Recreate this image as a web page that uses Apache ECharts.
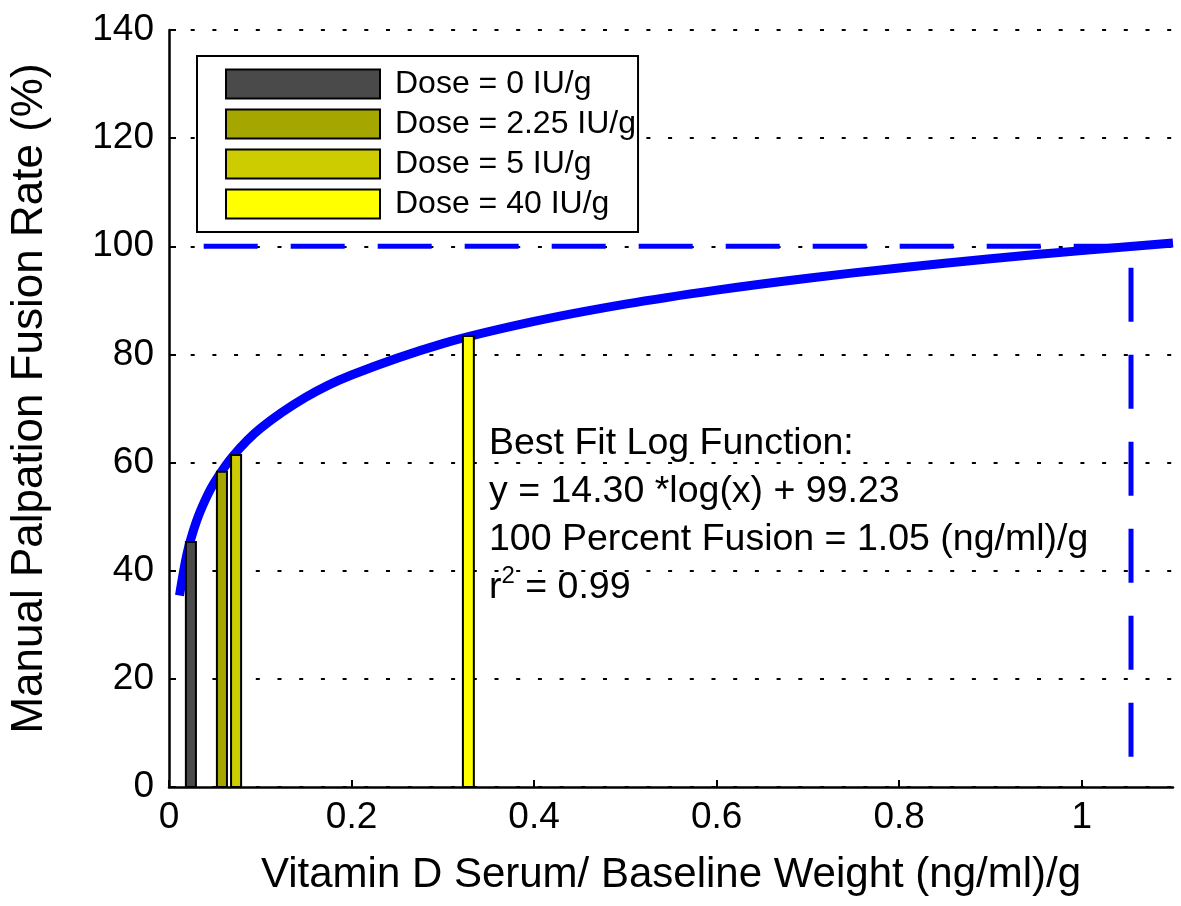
<!DOCTYPE html>
<html lang="en" style="height: 100%">
<head>
    <meta charset="utf-8">
    <title>Vitamin D fusion rate</title>
    <script src="https://cdn.jsdelivr.net/npm/echarts@6.0.0/dist/echarts.min.js"></script>
    <style>
        html, body { margin: 0; padding: 0; background: #fff; }
        #chart { width: 1181px; height: 906px; }
    </style>
</head>
<body>
<div id="chart"></div>
<script type="text/javascript">
    var chart = echarts.init(document.getElementById('chart'));

    // dose groups: [x centre, bar width, fusion rate]
    var doseNames = ['Dose = 0 IU/g', 'Dose = 2.25 IU/g', 'Dose = 5 IU/g', 'Dose = 40 IU/g'];
    var doseColors = ['#4a4a4a', '#a6a600', '#cccc00', '#ffff00'];
    var doseX = [0.024, 0.058, 0.0735, 0.328];
    var doseWidth = [0.011, 0.011, 0.011, 0.012];
    var doseRate = [45.3, 58.3, 61.4, 83.4];

    // fitted log curve
    var fitX = [0.0115, 0.02, 0.03, 0.04, 0.05, 0.07, 0.1, 0.15, 0.2, 0.3, 0.4, 0.5, 0.6, 0.7, 0.8, 0.9, 1.0, 1.1];
    var fitY = [35.4, 43.3, 49.1, 53.2, 56.4, 61.2, 66.3, 72.1, 76.2, 82.0, 86.1, 89.3, 91.9, 94.1, 96.0, 97.7, 99.2, 100.6];

    // 100 percent fusion guide lines
    var hLine = [[0.038, 100], [1.054, 100]];
    var vLine = [[1.054, 5.6], [1.054, 100]];

    var font = 'Liberation Sans, Arial, sans-serif';

    var series = [{
        type: 'line',
        data: fitX.map(function (x, i) { return [x, fitY[i]]; }),
        smooth: 0.3,
        showSymbol: false,
        lineStyle: { color: '#0000ff', width: 9 },
        z: 3,
        silent: true
    }, {
        type: 'line',
        data: hLine,
        showSymbol: false,
        lineStyle: { color: '#0000ff', width: 5, type: [54, 33], cap: 'butt' },
        z: 2,
        silent: true
    }, {
        type: 'line',
        data: vLine,
        showSymbol: false,
        lineStyle: { color: '#0000ff', width: 5, type: [54, 33], cap: 'butt' },
        z: 2,
        silent: true
    }];

    doseNames.forEach(function (name, i) {
        series.push({
            type: 'custom',
            name: name,
            z: 5,
            itemStyle: { color: doseColors[i], borderColor: '#000', borderWidth: 2 },
            data: [[doseX[i], doseRate[i], doseWidth[i]]],
            renderItem: function (params, api) {
                var x = api.value(0), y = api.value(1), w = api.value(2);
                var p0 = api.coord([x - w / 2, y]);
                var p1 = api.coord([x + w / 2, 0]);
                return {
                    type: 'rect',
                    shape: { x: p0[0], y: p0[1], width: p1[0] - p0[0], height: p1[1] - p0[1] },
                    style: { fill: doseColors[i], stroke: '#000', lineWidth: 2 }
                };
            }
        });
    });

    chart.setOption({
        animation: false,
        backgroundColor: '#fff',
        textStyle: { fontFamily: font },
        grid: { left: 168, right: 8, top: 30, bottom: 119 },
        legend: {
            data: doseNames,
            orient: 'vertical',
            left: 197,
            top: 56,
            padding: [12, 2, 12, 28],
            itemWidth: 154,
            itemHeight: 29,
            itemGap: 8,
            backgroundColor: '#fff',
            borderColor: '#000',
            borderWidth: 2,
            borderRadius: 0,
            icon: 'rect',
            itemStyle: { borderColor: '#000', borderWidth: 2 },
            textStyle: { fontSize: 32, lineHeight: 29, color: '#000', fontFamily: font, padding: [0, 0, 0, 10] },
            selectedMode: false
        },
        xAxis: {
            type: 'value',
            min: 0,
            max: 1.1,
            interval: 0.2,
            name: 'Vitamin D Serum/ Baseline Weight (ng/ml)/g',
            nameLocation: 'middle',
            nameGap: 67,
            nameTextStyle: { fontSize: 42, color: '#000', fontFamily: font },
            axisLine: { lineStyle: { color: '#000', width: 2.5 } },
            axisTick: { inside: true, length: 7, lineStyle: { color: '#000', width: 2 } },
            axisLabel: { fontSize: 37, color: '#000', margin: 12, showMaxLabel: false, fontFamily: font },
            splitLine: { show: false }
        },
        yAxis: {
            type: 'value',
            min: 0,
            max: 140,
            interval: 20,
            name: 'Manual Palpation Fusion Rate (%)',
            nameLocation: 'middle',
            nameGap: 117,
            nameTextStyle: { fontSize: 44, color: '#000', fontFamily: font, padding: [0, 0, 0, 20] },
            axisLine: { show: true, lineStyle: { color: '#000', width: 2.5 } },
            axisTick: { show: true, inside: true, length: 7, lineStyle: { color: '#000', width: 2 } },
            axisLabel: { fontSize: 37, color: '#000', margin: 15, fontFamily: font },
            splitLine: { show: true, lineStyle: { color: '#000', width: 2, type: [4, 17.7] } }
        },
        graphic: [{
            type: 'text',
            left: 489,
            top: 420,
            z: 10,
            style: {
                text: 'Best Fit Log Function:\ny = 14.30 *log(x) + 99.23\n100 Percent Fusion = 1.05 (ng/ml)/g\nr{sup|2} = 0.99',
                font: '37.5px ' + font,
                fill: '#000',
                lineHeight: 48,
                rich: {
                    sup: { fontSize: 24, verticalAlign: 'top', padding: [0, 0, 14, 0], fill: '#000', lineHeight: 48 }
                }
            }
        }],
        series: series
    });
</script>
</body>
</html>
